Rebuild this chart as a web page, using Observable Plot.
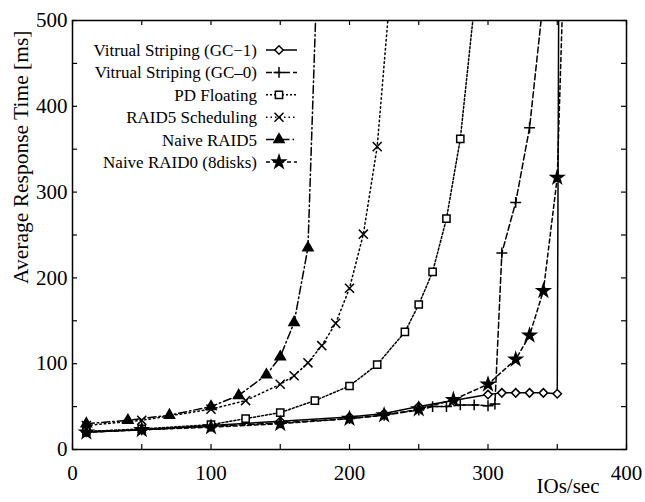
<!DOCTYPE html>
<html>
<head>
<meta charset="utf-8">
<script src="https://cdn.jsdelivr.net/npm/d3@7"></script>
<script src="https://cdn.jsdelivr.net/npm/@observablehq/plot@0.6"></script>
<style>
  html, body { margin: 0; padding: 0; background: #fff; }
  #chart { width: 645px; height: 502px; }
</style>
</head>
<body>
<div id="chart"></div>
<script>
// ---- data ----
const seriesNames = [
  "Vitrual Striping (GC\u22121)",
  "Vitrual Striping (GC\u20130)",
  "PD Floating",
  "RAID5 Scheduling",
  "Naive RAID5",
  "Naive RAID0 (8disks)"
];

const gc1X = [10, 50, 100, 150, 200, 225, 250, 275, 300, 310, 320, 330, 340, 350, 352];
const gc1Y = [20, 23, 28, 33, 38, 42, 50, 57, 64, 66, 66, 66, 66, 65, 940];

const gc0X = [10, 50, 100, 150, 200, 225, 250, 260, 270, 280, 290, 300, 305, 310, 320, 330, 340];
const gc0Y = [21, 23, 27, 31, 36, 40, 46, 50, 50, 52, 52, 51, 53, 229, 288, 375, 525];

const pdX = [10, 50, 100, 125, 150, 175, 200, 220, 240, 250, 260, 270, 280, 290];
const pdY = [21, 24, 29, 36, 43, 57, 74, 99, 137, 169, 207, 269, 362, 515];

const schedX = [10, 50, 100, 125, 150, 160, 170, 180, 190, 200, 210, 220, 230];
const schedY = [28, 34, 47, 57, 76, 86, 101, 121, 147, 188, 251, 353, 545];

const naive5X = [10, 40, 70, 100, 120, 140, 150, 160, 170, 176];
const naive5Y = [30, 34, 40, 50, 63, 87, 108, 148, 235, 525];

const raid0X = [10, 50, 100, 150, 200, 225, 250, 275, 300, 320, 330, 340, 350, 355];
const raid0Y = [20, 23, 26, 30, 36, 40, 47, 58, 76, 105, 133, 185, 317, 580];

const xTicks = [0, 50, 100, 150, 200, 250, 300, 350, 400];
const xTickLabels = [0, 100, 200, 300, 400];
const yTicks = [0, 50, 100, 150, 200, 250, 300, 350, 400, 450, 500];
const yTickLabels = [0, 100, 200, 300, 400, 500];

// ---- styles ----
const styles = [
  {symbol: "diamond2", fill: "white", r: 3.8, dash: null},
  {symbol: "plus", fill: "none", r: 3.6, dash: "6,3"},
  {symbol: "square2", fill: "white", r: 4.6, dash: "2,2"},
  {symbol: "times", fill: "none", r: 4.2, dash: "1.5,3"},
  {symbol: "triangle", fill: "black", r: 3.8, dash: "8,3,1.5,3"},
  {symbol: "star", fill: "black", r: 4.0, dash: "4,3"}
];

const xs = [gc1X, gc0X, pdX, schedX, naive5X, raid0X];
const ys = [gc1Y, gc0Y, pdY, schedY, naive5Y, raid0Y];
const series = seriesNames.map((name, i) => xs[i].map((x, j) => ({name, x, y: ys[i][j]})));

const W = 645, H = 502;
const mL = 72, mR = 19, mT = 20, mB = 53;
const plotH = H - mT - mB, plotW = W - mL - mR;
const tickLen = 5;

const marks = [];
series.forEach((data, i) => {
  const s = styles[i];
  marks.push(Plot.line(data, {x: "x", y: "y", stroke: "black", strokeWidth: 1.5,
    strokeDasharray: s.dash, clip: true}));
});
series.forEach((data, i) => {
  const s = styles[i];
  marks.push(Plot.dot(data, {x: "x", y: "y", symbol: () => s.symbol, r: s.r,
    stroke: "black", strokeWidth: 1.5, fill: s.fill, clip: true}));
});

marks.push(
  Plot.tickX(xTicks, {x: d => d, stroke: "black", strokeWidth: 1.2, insetTop: plotH - tickLen}),
  Plot.tickX(xTicks, {x: d => d, stroke: "black", strokeWidth: 1.2, insetBottom: plotH - tickLen}),
  Plot.tickY(yTicks, {y: d => d, stroke: "black", strokeWidth: 1.2, insetRight: plotW - tickLen}),
  Plot.tickY(yTicks, {y: d => d, stroke: "black", strokeWidth: 1.2, insetLeft: plotW - tickLen}),
  Plot.frame({stroke: "black", strokeWidth: 1.5}),
  Plot.axisX({ticks: xTickLabels, tickSize: 0, tickPadding: 16, label: null, fontSize: 21}),
  Plot.axisY({ticks: yTickLabels, tickSize: 0, tickPadding: 5, label: null, fontSize: 21}),
  Plot.text(["IOs/sec"], {frameAnchor: "bottom-right", dx: -27, dy: 43, textAnchor: "end", fontSize: 21}),
  Plot.text(["Average Response Time [ms]"], {frameAnchor: "top-left", rotate: -90, dx: -51, dy: 10,
    textAnchor: "end", lineAnchor: "middle", fontSize: 21.5})
);

const chart = Plot.plot({
  width: W, height: H,
  marginLeft: mL, marginRight: mR, marginTop: mT, marginBottom: mB,
  x: {domain: [0, 400]},
  y: {domain: [0, 500]},
  style: {fontFamily: "'Liberation Serif', 'DejaVu Serif', serif", fontSize: "20px", color: "black", background: "white"},
  marks
});

// ---- legend (inside the plot, upper left) ----
const svg = d3.select(chart);
const symbolTypes = {
  diamond2: d3.symbolDiamond2, plus: d3.symbolPlus, square2: d3.symbolSquare2,
  times: d3.symbolTimes, triangle: d3.symbolTriangle, star: d3.symbolStar
};
const lg = svg.append("g").attr("font-family", "'Liberation Serif', serif").attr("font-size", 17);
const rowY0 = 50, rowStep = 22.4, textRight = 257, lineX1 = 266, lineX2 = 297, markX = 279;
seriesNames.forEach((name, i) => {
  const s = styles[i];
  const y = rowY0 + i * rowStep;
  lg.append("text").attr("x", textRight).attr("y", y).attr("dy", "0.35em")
    .attr("text-anchor", "end").attr("fill", "black").text(name);
  lg.append("line").attr("x1", lineX1).attr("x2", lineX2).attr("y1", y).attr("y2", y)
    .attr("stroke", "black").attr("stroke-width", 1.5)
    .attr("stroke-dasharray", s.dash);
  lg.append("path").attr("transform", `translate(${markX},${y})`)
    .attr("d", d3.symbol(symbolTypes[s.symbol], Math.PI * s.r * s.r)())
    .attr("stroke", "black").attr("stroke-width", 1.5).attr("fill", s.fill);
});

document.getElementById("chart").appendChild(chart);
</script>
</body>
</html>
